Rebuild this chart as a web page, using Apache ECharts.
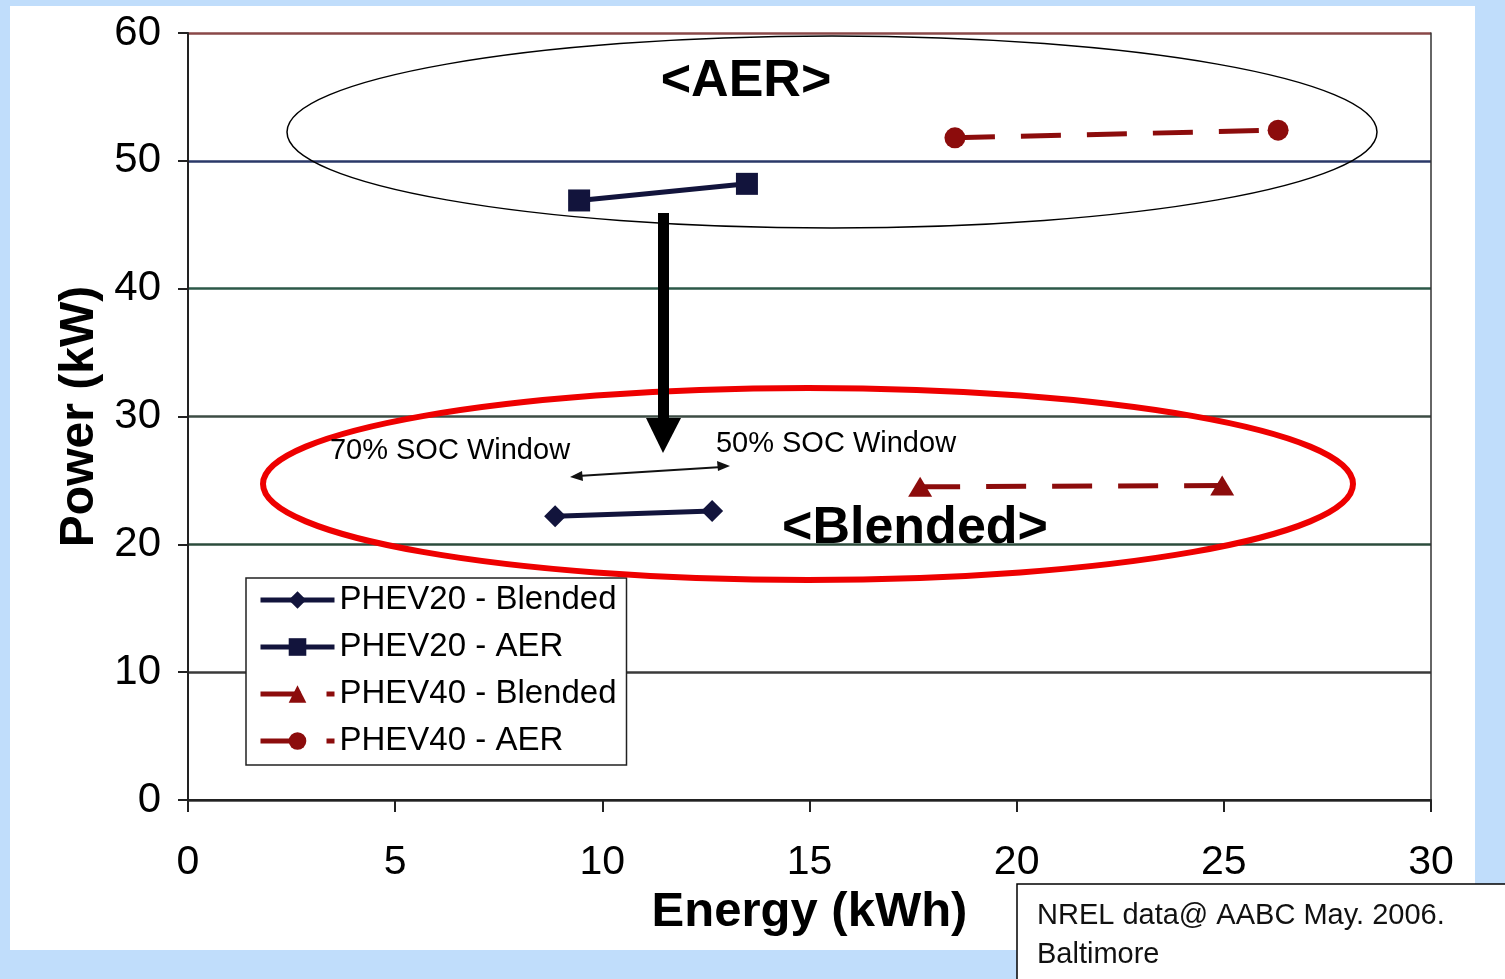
<!DOCTYPE html>
<html>
<head>
<meta charset="utf-8">
<script src="https://cdn.jsdelivr.net/npm/echarts@6/dist/echarts.min.js"></script>
<style>
html,body{margin:0;padding:0;background:#c0ddfb;}
#chart{width:1505px;height:979px;}
</style>
</head>
<body>
<div id="chart"></div>
<script>
// ---- data ----
var seriesNames = ['PHEV20 - Blended', 'PHEV20 - AER', 'PHEV40 - Blended', 'PHEV40 - AER'];
var phev20Blended = [[8.86, 22.2], [12.65, 22.6]];
var phev20AER = [[9.44, 46.9], [13.49, 48.2]];
var phev40Blended = [[17.67, 24.5], [24.96, 24.6]];
var phev40AER = [[18.51, 51.8], [26.31, 52.4]];
var xTicks = [0, 5, 10, 15, 20, 25, 30];
var yTicks = [0, 10, 20, 30, 40, 50, 60];

var navy = '#12143c';
var darkRed = '#8c0c0c';
var chart = echarts.init(document.getElementById('chart'));

var option = {
  backgroundColor: '#c0ddfb',
  animation: false,
  grid: {left: 188, right: 74, top: 33, bottom: 179, containLabel: false},
  legend: {
    orient: 'vertical',
    left: 246, top: 578,
    data: seriesNames,
    itemWidth: 74, itemHeight: 22, itemGap: 11,
    padding: [4, 10, 6, 12],
    backgroundColor: '#fff',
    borderColor: '#222', borderWidth: 1.5,
    lineStyle: {width: 5},
    textStyle: {fontFamily: 'Liberation Sans, Arial', fontSize: 33, color: '#000', lineHeight: 36}
  },
  xAxis: {
    type: 'value', min: xTicks[0], max: xTicks[xTicks.length - 1], interval: 5,
    name: 'Energy (kWh)', nameLocation: 'middle', nameGap: 88,
    nameTextStyle: {fontFamily: 'Liberation Sans, Arial', fontWeight: 'bold', fontSize: 49, color: '#000'},
    axisLine: {show: true, lineStyle: {color: '#222', width: 2}},
    axisTick: {show: true, inside: false, length: 12, lineStyle: {color: '#222', width: 2}},
    axisLabel: {margin: 42, fontFamily: 'Liberation Sans, Arial', fontSize: 41, color: '#000'},
    splitLine: {show: false}
  },
  yAxis: [{
    type: 'value', min: yTicks[0], max: yTicks[yTicks.length - 1], interval: 10,
    name: 'Power (kW)', nameLocation: 'middle', nameGap: 82, nameRotate: 90,
    nameTextStyle: {fontFamily: 'Liberation Sans, Arial', fontWeight: 'bold', fontSize: 48, color: '#000'},
    axisLine: {show: true, lineStyle: {color: '#222', width: 2}},
    axisTick: {show: true, length: 10, lineStyle: {color: '#222', width: 2}},
    axisLabel: {margin: 27, fontFamily: 'Liberation Sans, Arial', fontSize: 42, color: '#000'},
    splitLine: {show: true, lineStyle: {width: 2.5, color: ['#333', '#3a3a3a', '#2c4c3c', '#3c4c44', '#2c5848', '#2a3868', '#8a4848']}}
  }, {
    type: 'value', min: 0, max: 60, interval: 10, position: 'right',
    axisLine: {show: true, lineStyle: {color: '#333', width: 1.5}},
    axisTick: {show: false}, axisLabel: {show: false}, splitLine: {show: false}
  }],
  series: [
    {name: seriesNames[0], type: 'line', data: phev20Blended, symbol: 'diamond', symbolSize: [22, 22],
     lineStyle: {color: navy, width: 5}, itemStyle: {color: navy}, z: 5},
    {name: seriesNames[1], type: 'line', data: phev20AER, symbol: 'rect', symbolSize: 22,
     lineStyle: {color: navy, width: 5}, itemStyle: {color: navy}, z: 5},
    {name: seriesNames[2], type: 'line', data: phev40Blended, symbol: 'triangle', symbolSize: [24, 20],
     lineStyle: {color: darkRed, width: 5, type: [40, 26]}, itemStyle: {color: darkRed}, z: 5},
    {name: seriesNames[3], type: 'line', data: phev40AER, symbol: 'circle', symbolSize: 21,
     lineStyle: {color: darkRed, width: 5, type: [40, 26]}, itemStyle: {color: darkRed}, z: 5}
  ],
  graphic: [
    {type: 'rect', z: -10, silent: true, shape: {x: 10, y: 6, width: 1465, height: 944}, style: {fill: '#fff'}},
    {type: 'ellipse', z: 10, shape: {cx: 832, cy: 132, rx: 545, ry: 96}, style: {fill: null, stroke: '#000', lineWidth: 1.5}},
    {type: 'ellipse', z: 10, shape: {cx: 808, cy: 484, rx: 545, ry: 96}, style: {fill: null, stroke: '#ee0000', lineWidth: 6}},
    {type: 'text', z: 11, style: {text: '<AER>', x: 746, y: 82, textAlign: 'center', textVerticalAlign: 'middle',
      font: 'bold 52px "Liberation Sans", Arial', fill: '#000'}},
    {type: 'text', z: 11, style: {text: '<Blended>', x: 915, y: 529, textAlign: 'center', textVerticalAlign: 'middle',
      font: 'bold 52px "Liberation Sans", Arial', fill: '#000'}},
    // big down arrow
    {type: 'rect', z: 11, shape: {x: 658, y: 213, width: 11, height: 208}, style: {fill: '#000'}},
    {type: 'polygon', z: 11, shape: {points: [[646, 418], [681, 418], [663, 453]]}, style: {fill: '#000'}},
    // SOC labels
    {type: 'text', z: 11, style: {text: '70% SOC Window', x: 450, y: 451, textAlign: 'center', textVerticalAlign: 'middle',
      font: '29px "Liberation Sans", Arial', fill: '#000'}},
    {type: 'text', z: 11, style: {text: '50% SOC Window', x: 836, y: 444, textAlign: 'center', textVerticalAlign: 'middle',
      font: '29px "Liberation Sans", Arial', fill: '#000'}},
    {type: 'line', z: 11, shape: {x1: 578, y1: 476, x2: 722, y2: 467}, style: {stroke: '#111', lineWidth: 2}},
    {type: 'polygon', z: 11, shape: {points: [[570, 477], [582, 471], [583, 481]]}, style: {fill: '#111'}},
    {type: 'polygon', z: 11, shape: {points: [[730, 466], [717, 461], [718, 471]]}, style: {fill: '#111'}},
    // source box
    {type: 'rect', z: 12, shape: {x: 1017, y: 884, width: 500, height: 110}, style: {fill: '#fff', stroke: '#000', lineWidth: 1.5}},
    {type: 'text', z: 13, style: {text: 'NREL data@ AABC May. 2006.', x: 1037, y: 916, textVerticalAlign: 'middle',
      font: '29px "Liberation Sans", Arial', fill: '#111'}},
    {type: 'text', z: 13, style: {text: 'Baltimore', x: 1037, y: 955, textVerticalAlign: 'middle',
      font: '29px "Liberation Sans", Arial', fill: '#111'}}
  ]
};
chart.setOption(option);
</script>
</body>
</html>
